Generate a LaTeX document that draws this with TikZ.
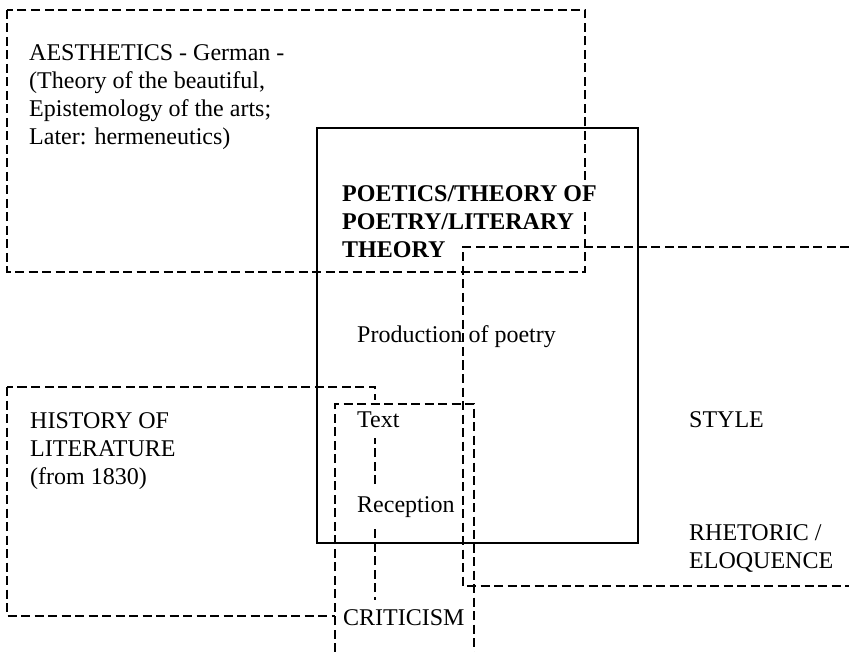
\documentclass[tikz,border=0pt]{standalone}
\usepackage{fontspec}
\setmainfont{Liberation Serif}
\begin{document}
\begin{tikzpicture}[x=1pt,y=-1pt,
  dbox/.style={draw=black,line width=1.6pt,dash pattern=on 9pt off 4.5pt},
  sbox/.style={draw=black,line width=1.3pt},
  lbl/.style={anchor=base west,inner sep=0pt,font=\fontsize{24}{28}\selectfont},
  blbl/.style={lbl,font=\fontsize{24}{28}\selectfont\bfseries},
  masked/.style={fill=white}]
\useasboundingbox[fill=white] (0,0) rectangle (849,652);

% frames
\draw[sbox] (317,128) rectangle (638,543);
\draw[dbox] (7,10) rectangle (585,272);
\draw[dbox] (7,387) rectangle (375,616);
\draw[dbox] (849,247) -- (463,247) -- (463,586) -- (849,586);

% aesthetics
\node[lbl] (aes1) at (29,61) {AESTHETICS - German -};
\node[lbl] (aes2) at (29,89) {(Theory of the beautiful,};
\node[lbl] (aes3) at (29,117) {Epistemology of the arts;};
\node[lbl] (aes4) at (29,145) {Later: hermeneutics)};

% poetics
\node[blbl,masked,inner xsep=1pt,inner ysep=6pt] (poe1) at (341,202) {POETICS/THEORY OF};
\node[blbl] (poe2) at (342,230) {POETRY/LITERARY};
\node[blbl] (poe3) at (342,258) {THEORY};
\node[lbl] (prod) at (357,343) {Production of poetry};
\node[lbl,masked,inner xsep=3pt,inner ysep=11pt] (text) at (354,427) {Text};
\node[lbl,masked,inner xsep=3pt,inner ysep=9pt] (recep) at (354,512) {Reception};

% history
\node[lbl] (his1) at (30,428) {HISTORY OF};
\node[lbl] (his2) at (30,456) {LITERATURE};
\node[lbl] (his3) at (30,484) {(from 1830)};

% style / rhetoric
\node[lbl] (style) at (689,427) {STYLE};
\node[lbl] (rhe1) at (689,540) {RHETORIC /};
\node[lbl] (rhe2) at (689,568) {ELOQUENCE};

% criticism
\node[lbl,masked,inner xsep=8pt,inner ysep=9pt] (crit) at (335,625) {CRITICISM};
\draw[dbox] (335,652) -- (335,404) -- (474,404) -- (474,652);
\end{tikzpicture}
\end{document}
